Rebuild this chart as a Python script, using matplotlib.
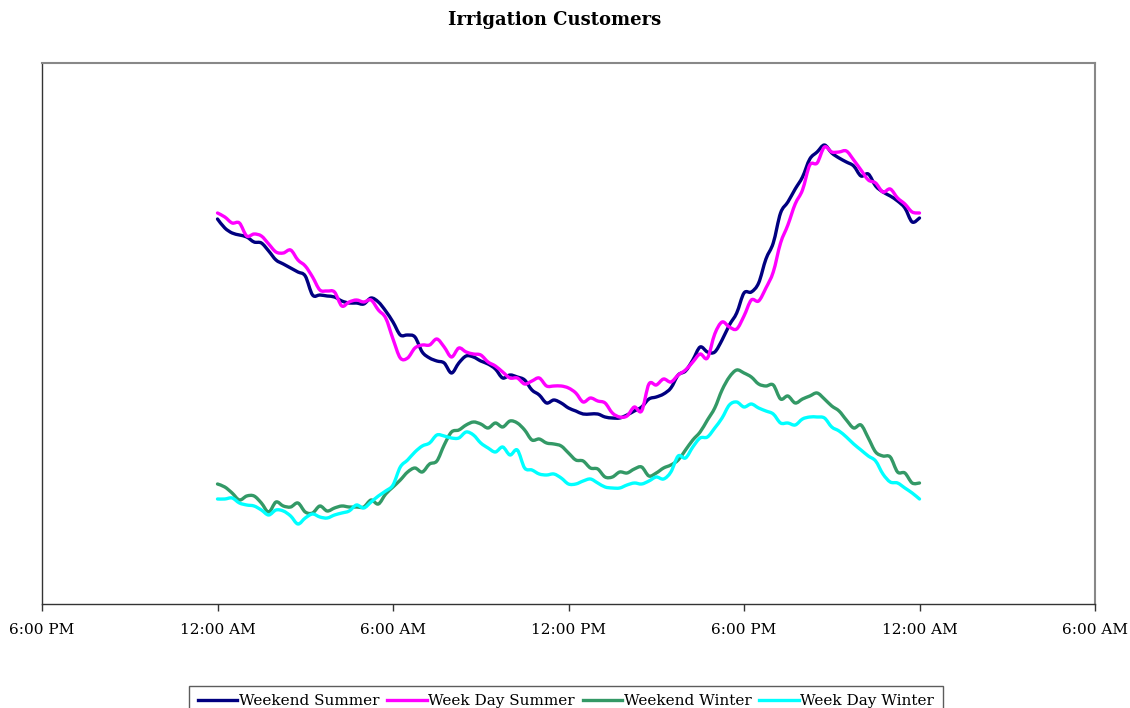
import numpy as np
import matplotlib
matplotlib.use("Agg")
import matplotlib.pyplot as plt
from matplotlib.path import Path
from matplotlib.patches import PathPatch
from matplotlib.lines import Line2D

# 15-minute load profile, midnight to midnight (relative load units)
weekend_summer = [
    385, 376, 371, 369, 367, 362, 361, 353, 344, 340, 336, 332, 328, 309, 309, 308,
    307, 303, 301, 301, 300, 306, 302, 293, 282, 269, 269, 267, 252, 246, 243, 241,
    231, 241, 248, 247, 243, 240, 235, 226, 229, 227, 224, 214, 209, 201, 204, 201,
    196, 193, 190, 190, 190, 187, 186, 186, 189, 193, 197, 205, 207, 210, 216, 229,
    233, 244, 257, 252, 252, 264, 279, 291, 311, 312, 321, 345, 361, 391, 402, 415,
    427, 445, 452, 459, 451, 446, 442, 438, 428, 430, 418, 412, 408, 403, 396, 382,
    386,
]
weekday_summer = [
    391, 387, 381, 381, 368, 370, 368, 360, 352, 351, 354, 344, 338, 327, 314, 313,
    312, 298, 302, 304, 302, 304, 294, 286, 265, 246, 246, 256, 259, 259, 265, 257,
    247, 256, 252, 250, 249, 242, 238, 232, 226, 226, 220, 223, 226, 218, 218, 218,
    216, 211, 202, 206, 203, 201, 191, 187, 188, 197, 193, 220, 219, 225, 222, 229,
    234, 242, 250, 246, 270, 282, 277, 275, 288, 304, 303, 316, 332, 361, 379, 400,
    414, 439, 441, 457, 452, 452, 453, 444, 434, 424, 421, 412, 415, 406, 400, 392,
    391,
]
weekend_winter = [
    120, 117, 111, 104, 108, 108, 101, 92, 102, 98, 97, 101, 92, 91, 98, 93,
    96, 98, 97, 97, 97, 104, 100, 110, 117, 124, 132, 136, 132, 140, 143, 159,
    172, 174, 179, 182, 180, 176, 181, 177, 183, 181, 174, 164, 165, 161, 160, 158,
    151, 144, 143, 136, 135, 127, 127, 132, 131, 135, 137, 128, 131, 136, 139, 144,
    154, 164, 172, 184, 196, 214, 227, 234, 231, 227, 220, 218, 219, 205, 208, 201,
    205, 208, 211, 205, 198, 193, 184, 176, 179, 166, 152, 148, 147, 132, 131, 121,
    121,
]
weekday_winter = [
    105, 105, 106, 101, 99, 98, 94, 89, 94, 93, 88, 80, 86, 90, 87, 86,
    89, 91, 93, 99, 96, 102, 108, 113, 119, 137, 144, 152, 158, 161, 169, 168,
    166, 166, 172, 169, 161, 156, 152, 157, 149, 154, 136, 134, 130, 129, 130, 126,
    120, 120, 123, 125, 121, 117, 116, 116, 119, 121, 120, 123, 127, 125, 132, 148,
    146, 157, 166, 167, 176, 186, 199, 202, 197, 200, 196, 193, 190, 181, 181, 179,
    185, 187, 187, 186, 177, 173, 167, 160, 154, 148, 143, 130, 122, 121, 116, 111,
    105,
]

series_names = ["Weekend Summer", "Week Day Summer", "Weekend Winter", "Week Day Winter"]
series_colors = ["#000080", "#FF00FF", "#339966", "#00FFFF"]

# time axis in hours from midnight; labels cover 6 PM the day before to 6 AM after
tick_hours = [-6, 0, 6, 12, 18, 24, 30]
tick_labels = ["6:00 PM", "12:00 AM", "6:00 AM", "12:00 PM", "6:00 PM", "12:00 AM", "6:00 AM"]

all_series = [weekend_summer, weekday_summer, weekend_winter, weekday_winter]
n = len(weekend_summer)
assert all(len(s) == n for s in all_series)
hours = np.arange(n) * 0.25


def smooth_path(x, y):
    """Bezier path through every point (Catmull-Rom style tangents)."""
    pts = np.column_stack([x, y]).astype(float)
    ext = np.vstack([pts[0], pts, pts[-1]])
    verts = [pts[0]]
    codes = [Path.MOVETO]
    for i in range(len(pts) - 1):
        p0, p1, p2, p3 = ext[i], ext[i + 1], ext[i + 2], ext[i + 3]
        c1 = p1 + (p2 - p0) / 6.0
        c2 = p2 - (p3 - p1) / 6.0
        verts += [c1, c2, p2]
        codes += [Path.CURVE4] * 3
    return Path(verts, codes)


plt.rcParams["font.family"] = ["DejaVu Serif"]

fig = plt.figure(figsize=(11.3, 7.08), dpi=100)
ax = fig.add_axes([42 / 1130, 1 - 604 / 708, (1095 - 42) / 1130, (604 - 63) / 708])

handles = []
for vals, name, col in zip(all_series, series_names, series_colors):
    ax.add_patch(PathPatch(smooth_path(hours, vals), fill=False, edgecolor=col,
                           lw=2.4, joinstyle="round", capstyle="round"))
    handles.append(Line2D([], [], color=col, lw=2.4, label=name))

ax.set_xlim(-6, 30)
ax.set_ylim(0, 541)
ax.set_xticks(tick_hours)
ax.set_xticklabels(tick_labels, fontsize=11)
ax.set_yticks([])
ax.tick_params(axis="x", direction="out", length=5, width=1, color="#333333", pad=9)

for side in ["left", "bottom"]:
    ax.spines[side].set_color("#333333")
    ax.spines[side].set_linewidth(1.0)
for side in ["top", "right"]:
    ax.spines[side].set_color("#888888")
    ax.spines[side].set_linewidth(1.5)

fig.text(555 / 1130, 1 - 20 / 708, "Irrigation Customers", ha="center", va="center",
         fontsize=13, fontweight="bold")

leg = fig.legend(handles=handles, loc="upper center",
                 bbox_to_anchor=(566 / 1130, 1 - 686 / 708),
                 ncol=4, frameon=True, fancybox=False, fontsize=11,
                 handlelength=2.6, handletextpad=0.1, columnspacing=0.5,
                 borderpad=0.55, borderaxespad=0)
leg.get_frame().set_edgecolor("#333333")
leg.get_frame().set_linewidth(1.0)

fig.savefig("out.png", dpi=100)
